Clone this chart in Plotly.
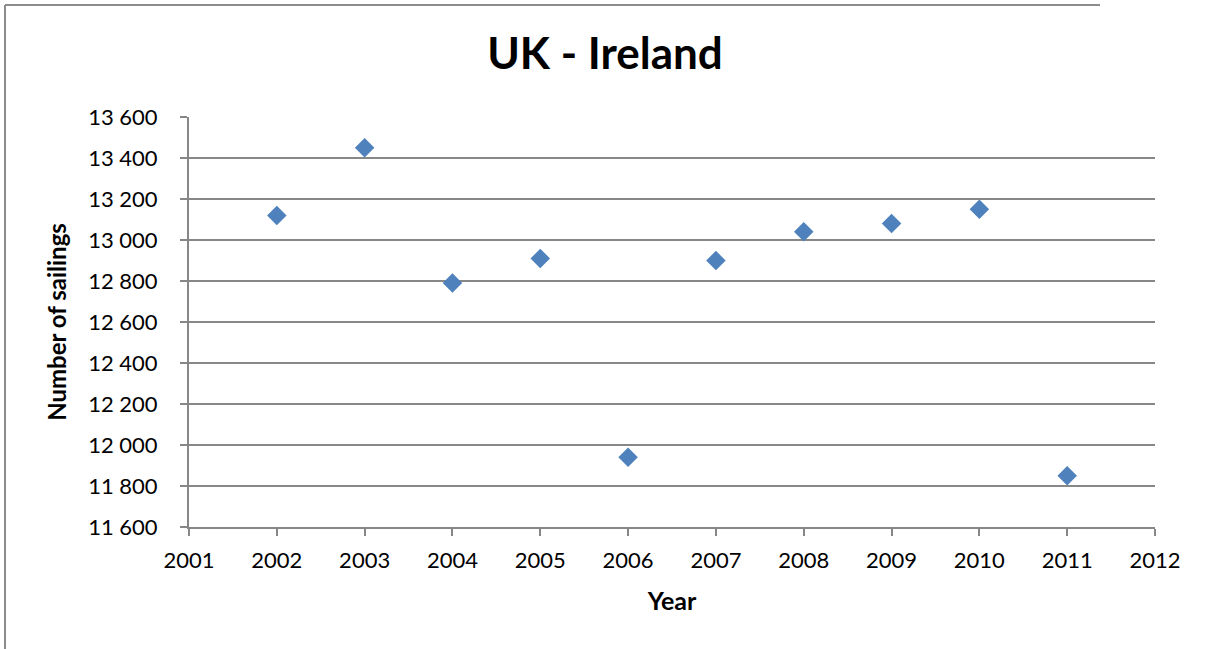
import plotly.graph_objects as go

# Annual number of ferry sailings between the UK and Ireland
years = [2002, 2003, 2004, 2005, 2006, 2007, 2008, 2009, 2010, 2011]
sailings = [13120, 13450, 12790, 12910, 11940, 12900, 13040, 13080, 13150, 11850]

x_ticks = list(range(2001, 2013))
y_ticks = list(range(11600, 13601, 200))

W, H = 1210, 649
ML, MR, MT, MB = 189, 55, 117, 122
PW, PH = W - ML - MR, H - MT - MB

def px_to_paper_x(px):
    return (px - ML) / PW

def px_to_paper_y(py):
    return (H - MB - py) / PH

GRID = "#878787"
FONT = "Lato, 'Open Sans', sans-serif"

fig = go.Figure(
    go.Scatter(
        x=years,
        y=sailings,
        mode="markers",
        marker=dict(symbol="diamond", size=15, color="#4F81BD", line=dict(width=0)),
        showlegend=False,
    )
)

# Frame around the chart: only the top and left edges fall inside the page
frame_left, frame_top = px_to_paper_x(5), px_to_paper_y(5)
frame_right, frame_bottom = px_to_paper_x(1100), px_to_paper_y(H + 50)
frame_line = dict(color="#8c8c8c", width=2)

fig.update_layout(
    width=W,
    height=H,
    margin=dict(l=ML, r=MR, t=MT, b=MB),
    paper_bgcolor="white",
    plot_bgcolor="white",
    separators=". ",
    font=dict(family=FONT, size=22, color="black"),
    title=dict(
        text="<b>UK - Ireland</b>",
        x=0.5,
        xanchor="center",
        xref="container",
        y=1 - 54 / H,
        yanchor="middle",
        yref="container",
        font=dict(family=FONT, size=44, color="black"),
    ),
    xaxis=dict(
        range=[2001, 2012],
        tickvals=x_ticks,
        ticktext=[str(v) for v in x_ticks],
        showgrid=False,
        zeroline=False,
        showline=True,
        linecolor=GRID,
        linewidth=2,
        ticks="outside",
        ticklen=7,
        tickwidth=2,
        tickcolor=GRID,
        ticklabelstandoff=6,
        title=dict(text="<b>Year</b>", font=dict(size=25), standoff=20),
    ),
    yaxis=dict(
        range=[11600, 13600],
        tickvals=y_ticks,
        tickformat=",d",
        showgrid=True,
        gridcolor=GRID,
        gridwidth=2,
        zeroline=False,
        showline=True,
        linecolor=GRID,
        linewidth=2,
        ticks="outside",
        ticklen=7,
        tickwidth=2,
        tickcolor=GRID,
        ticklabelstandoff=18,
        title=dict(text="<b>Number of sailings</b>", font=dict(size=24), standoff=15),
    ),
    shapes=[
        dict(type="line", xref="paper", yref="paper",
             x0=frame_left, x1=frame_right, y0=frame_top, y1=frame_top,
             line=frame_line, layer="below"),
        dict(type="line", xref="paper", yref="paper",
             x0=frame_left, x1=frame_left, y0=frame_bottom, y1=frame_top,
             line=frame_line, layer="below"),
    ],
)

fig.write_html("out.html")
